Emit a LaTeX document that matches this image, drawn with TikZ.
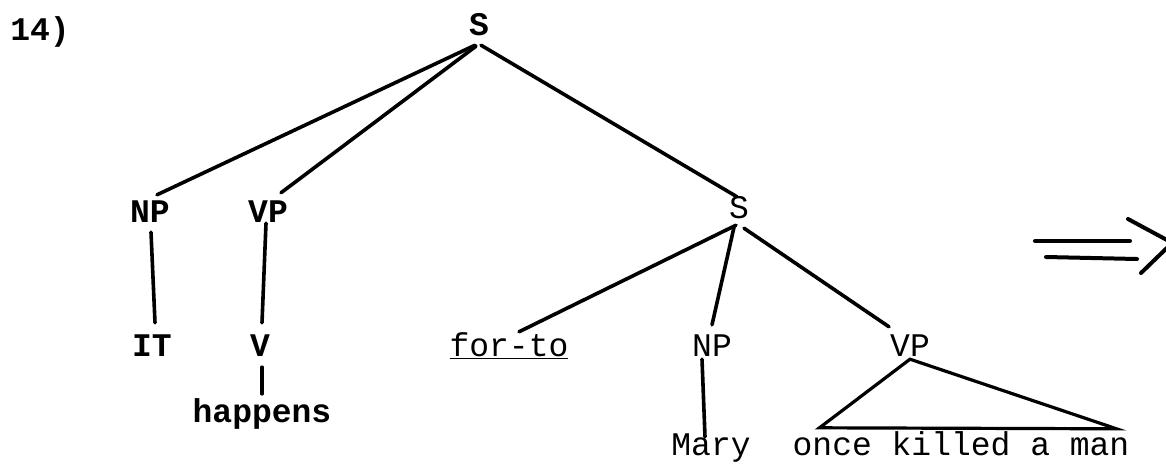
\documentclass[tikz,border=0pt]{standalone}
\usepackage{fontspec}
\setmainfont{Liberation Mono}
\tikzset{
  lab/.style={inner sep=3pt, text height=19pt, text depth=0pt, anchor=base,
    font=\fontsize{33}{38}\selectfont},
  blab/.style={lab, font=\fontsize{33}{38}\selectfont\bfseries},
  branch/.style={line width=3.6pt, line cap=round}
}
\begin{document}
\begin{tikzpicture}[x=1pt,y=-1pt]
\useasboundingbox (0,0) rectangle (1166,463);

\node[blab] (num) at (40,40) {14)};
\node[blab] (S) at (479,35) {S};
\node[blab] (NP) at (150,222) {NP};
\node[blab] (VP) at (268,222) {VP};
\node[lab] (Sb) at (739,218) {S};

\node[blab] (IT) at (152,356) {IT};
\node[blab] (V) at (260,356) {V};
\node[blab] (hap) at (262,422) {happens};
\node[lab] (forto) at (509,356) {\underline{for-to}};
\node[lab] (NPb) at (712,356) {NP};
\node[lab] (VPb) at (910,356) {VP};
\node[lab] (Mary) at (711,455) {Mary};
\node[lab] (kill) at (961,455) {once killed a man};

% upper S
\draw[branch] ([xshift=-4pt,yshift=-7pt]S.south) -- ([xshift=7pt,yshift=5pt]NP.north);
\draw[branch] ([xshift=-3pt,yshift=-8pt]S.south) -- ([xshift=13pt,yshift=7pt]VP.north);
\draw[branch] ([xshift=2pt,yshift=-7pt]S.south) -- ([xshift=-2pt,yshift=-1pt]Sb.north);
\draw[branch] ([xshift=1pt,yshift=-7pt]NP.south) -- ([xshift=3pt,yshift=11pt]IT.north);
\draw[branch] ([xshift=-2pt,yshift=2pt]VP.south) -- ([xshift=2pt,yshift=11pt]V.north);
\draw[branch] ([xshift=2pt,yshift=-8pt]V.south) -- ([yshift=6pt]hap.north);

% lower S
\draw[branch] ([xshift=-3pt,yshift=-4pt]Sb.south) -- ([xshift=10pt,yshift=2pt]forto.north);
\draw[branch] ([xshift=-5pt,yshift=-6pt]Sb.south) -- ([yshift=9pt]NPb.north);
\draw[branch] ([xshift=5pt,yshift=-7pt]Sb.south) -- ([xshift=-21pt,yshift=7pt]VPb.north);
\draw[branch] ([xshift=-10pt]NPb.south) -- ([xshift=-6pt,yshift=-4pt]Mary.north);

% triangle
\draw[branch, line width=3.2pt] (VPb.south) -- ([xshift=30pt,yshift=5pt]kill.north west)
  -- ([xshift=-16pt,yshift=4pt]kill.north east) -- cycle;

% double arrow
\draw[line width=4pt, line cap=round] (1035,241) -- (1130,241);
\draw[line width=4pt, line cap=round] (1046,257) -- (1137,259);
\draw[line width=4pt, line cap=round] (1128,219) -- (1178,246);
\draw[line width=4pt, line cap=round] (1141,273) -- (1172,243);
\end{tikzpicture}
\end{document}
